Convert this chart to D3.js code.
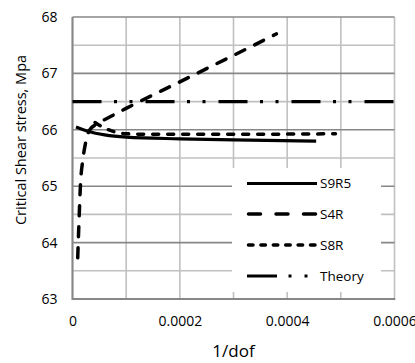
<!DOCTYPE html>
<meta charset="utf-8">
<head>
<style>
  body { margin: 0; background: #fff; }
  text { font-family: "Open Sans", sans-serif; fill: #000; }
</style>
</head>
<body>
<script src="https://d3js.org/d3.v7.min.js"></script>
<script>

// Series: [1/dof, critical shear stress]
var s9r5 = [[0.0000065, 66.05], [0.00003, 65.97], [0.00006, 65.91], [0.0001, 65.87],
            [0.0002, 65.84], [0.0003, 65.82], [0.000454, 65.80]];
var s4r = [[0.0000097, 63.73], [0.000012, 64.35], [0.000015, 65.06], [0.000019, 65.45],
           [0.000024, 65.75], [0.000032, 66.0], [0.000045, 66.1], [0.00007, 66.23],
           [0.0001, 66.38], [0.0002, 66.85], [0.0003, 67.32], [0.00038, 67.70]];
var s8r = [[0.000042, 66.13], [0.00006, 66.03], [0.00008, 65.96], [0.0001, 65.93],
           [0.00015, 65.92], [0.0003, 65.92], [0.00049, 65.93]];
var theory = [[0, 66.5], [0.0006, 66.5]];

var seriesNames = ["S9R5", "S4R", "S8R", "Theory"];

// Axis ticks
var xTicks = [0, 0.0002, 0.0004, 0.0006];
var xTickLabels = ["0", "0.0002", "0.0004", "0.0006"];
var xGrid = [0, 0.0001, 0.0002, 0.0003, 0.0004, 0.0005, 0.0006];
var yTicks = [63, 64, 65, 66, 67, 68];
var yTickLabels = ["63", "64", "65", "66", "67", "68"];
var yMinor = [63.5, 64.5, 65.5, 66.5, 67.5];

var width = 415,
    height = 363;

var margin = {left: 72.5, right: 20.5, top: 17, bottom: 64};

var svg = d3.select("body").append("svg")
    .attr("width", width)
    .attr("height", height);

var x = d3.scaleLinear().domain([0, 0.0006]).range([margin.left, width - margin.right]);
var y = d3.scaleLinear().domain([63, 68]).range([height - margin.bottom, margin.top]);

//Gridlines
var grid = svg.append("g").attr("class", "grid");

grid.selectAll("line.v")
  .data(xGrid)
  .enter().append("line")
  .attr("class", "v")
  .attr("x1", d => x(d)).attr("x2", d => x(d))
  .attr("y1", y(63)).attr("y2", y(68))
  .attr("stroke", "#c0c0c0")
  .attr("stroke-width", 1.6);

grid.selectAll("line.hm")
  .data(yMinor)
  .enter().append("line")
  .attr("class", "hm")
  .attr("x1", x(0)).attr("x2", x(0.0006))
  .attr("y1", d => y(d)).attr("y2", d => y(d))
  .attr("stroke", "#c0c0c0")
  .attr("stroke-width", 1.6);

grid.selectAll("line.h")
  .data(yTicks)
  .enter().append("line")
  .attr("class", "h")
  .attr("x1", x(0)).attr("x2", x(0.0006))
  .attr("y1", d => y(d)).attr("y2", d => y(d))
  .attr("stroke", "#878787")
  .attr("stroke-width", 1.6);

//Legend box covers the gridlines
svg.append("rect")
  .attr("x", 232).attr("y", 168)
  .attr("width", 149).attr("height", 124)
  .attr("fill", "#fff");

//Axis lines
svg.append("line")
  .attr("x1", x(0)).attr("x2", x(0))
  .attr("y1", y(63) + 1).attr("y2", y(68))
  .attr("stroke", "#878787").attr("stroke-width", 2);
svg.append("line")
  .attr("x1", x(0)).attr("x2", x(0.0006) + 0.8)
  .attr("y1", y(63)).attr("y2", y(63))
  .attr("stroke", "#878787").attr("stroke-width", 2);

//Tick labels through d3 axes
var xAxis = d3.axisBottom(x)
  .tickValues(xTicks)
  .tickSize(0)
  .tickPadding(17)
  .tickFormat((d, i) => xTickLabels[i]);

svg.append("g")
  .attr("transform", "translate(0," + y(63) + ")")
  .call(xAxis)
  .call(g => g.select(".domain").remove())
  .selectAll("text")
  .style("font-family", "'Open Sans', sans-serif")
  .style("font-size", "14px")
  .attr("fill", "#000");

var yAxis = d3.axisLeft(y)
  .tickValues(yTicks)
  .tickSize(0)
  .tickPadding(15)
  .tickFormat((d, i) => yTickLabels[i]);

svg.append("g")
  .attr("transform", "translate(" + x(0) + ",0)")
  .call(yAxis)
  .call(g => g.select(".domain").remove())
  .selectAll("text")
  .style("font-family", "'Open Sans', sans-serif")
  .style("font-size", "14px")
  .attr("fill", "#000");

//Axis titles
svg.append("text")
  .attr("x", 233.5).attr("y", 357)
  .attr("text-anchor", "middle")
  .style("font-size", "17px")
  .text("1/dof");

svg.append("text")
  .attr("transform", "translate(26,140) rotate(-90)")
  .attr("text-anchor", "middle")
  .style("font-size", "14.5px")
  .text("Critical Shear stress, Mpa");

//Series
var line = d3.line()
  .x(d => x(d[0]))
  .y(d => y(d[1]))
  .curve(d3.curveMonotoneX);

var styles = [
  {data: s9r5, dash: null, cap: "butt", w: 3.2, legendDash: null},
  {data: s4r, dash: "10,11", cap: "round", w: 3.5, legendDash: "12,15.5"},
  {data: s8r, dash: "6,9", cap: "round", w: 3.5, legendDash: "4.5,7.9"},
  {data: theory, dash: "29,12.5,3,12.5,3,13", cap: "butt", w: 3.2, legendDash: "30,11.5,3,13,3,13"}
];

var plot = svg.append("g").attr("class", "series");

plot.selectAll("path")
  .data(styles)
  .enter().append("path")
  .attr("d", d => line(d.data))
  .attr("fill", "none")
  .attr("stroke", "#000")
  .attr("stroke-width", d => d.w)
  .attr("stroke-linecap", d => d.cap)
  .attr("stroke-dasharray", d => d.dash);

//Legend
var legend = svg.append("g").attr("class", "legend");
var legendY = [183.5, 214, 245, 276];

var rows = legend.selectAll("g")
  .data(styles)
  .enter().append("g")
  .attr("transform", (d, i) => "translate(0," + legendY[i] + ")");

rows.append("line")
  .attr("x1", d => d.cap === "round" ? 248.5 : 247)
  .attr("x2", 317)
  .attr("y1", 0).attr("y2", 0)
  .attr("stroke", "#000")
  .attr("stroke-width", d => d.w)
  .attr("stroke-linecap", d => d.cap)
  .attr("stroke-dasharray", d => d.legendDash);

rows.append("text")
  .attr("x", 320)
  .attr("y", 0)
  .attr("dy", "0.35em")
  .style("font-size", "13.5px")
  .text((d, i) => seriesNames[i]);

</script>
</body>
